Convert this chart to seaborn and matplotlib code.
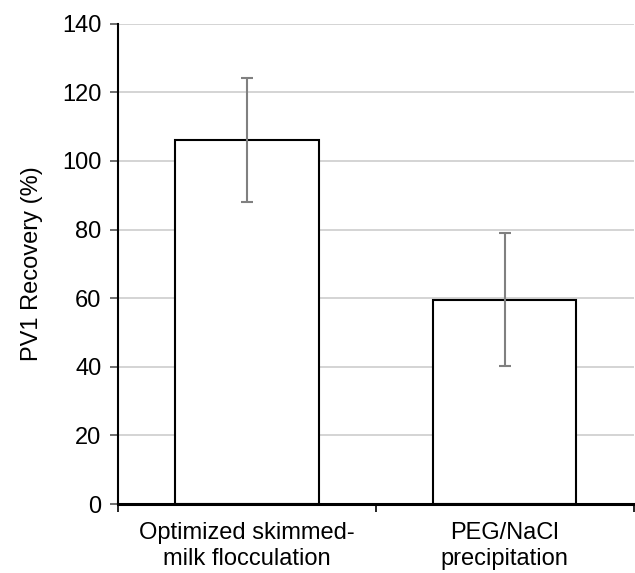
import matplotlib
matplotlib.use("Agg")
import matplotlib.pyplot as plt
import seaborn as sns
import pandas as pd
from matplotlib.ticker import FixedLocator, NullFormatter

categories = ["Optimized skimmed-\nmilk flocculation", "PEG/NaCl\nprecipitation"]
recovery = [106.1, 59.6]
errors = [18.1, 19.3]
yticks = [0, 20, 40, 60, 80, 100, 120, 140]

sns.set_theme(style="white")
plt.rcParams['font.family'] = ['Liberation Sans', 'DejaVu Sans']
plt.rcParams['text.color'] = 'black'
plt.rcParams['axes.labelcolor'] = 'black'
plt.rcParams['xtick.color'] = 'black'
plt.rcParams['ytick.color'] = 'black'

df = pd.DataFrame({"method": categories, "recovery": recovery})

fig = plt.figure(figsize=(6.35, 5.73), dpi=100)
ax = fig.add_axes([0.186, 0.1204, 0.812, 0.8382])

sns.barplot(data=df, x="method", y="recovery", ax=ax, color="white",
            edgecolor="black", linewidth=1.5, width=0.555, errorbar=None, zorder=3)
ax.errorbar(range(len(categories)), recovery, yerr=errors, fmt="none",
            ecolor="#808080", elinewidth=1.5, capsize=4, capthick=1.5, zorder=4)

ax.set_ylim(0, 140)
ax.set_xlim(-0.5, 1.5)
ax.set_yticks(yticks)
ax.yaxis.grid(True, color="#d4d4d4", linewidth=1.4, zorder=0)
ax.set_axisbelow(True)

ax.xaxis.set_major_locator(FixedLocator([-0.5, 0.5, 1.5]))
ax.xaxis.set_major_formatter(NullFormatter())
ax.xaxis.set_minor_locator(FixedLocator([0, 1]))
ax.set_xticklabels(categories, minor=True, linespacing=1.25)
ax.tick_params(axis="x", which="major", direction="out", length=6, width=1.2, color="black", bottom=True)
ax.tick_params(axis="x", which="minor", length=0, labelsize=17, pad=13, labelcolor="black")
ax.tick_params(axis="y", direction="out", length=6, width=1.2, color="#555555", left=True,
               labelsize=17, pad=6, labelcolor="black")

ax.set_xlabel("")
ax.set_ylabel("PV1 Recovery (%)", fontsize=17, labelpad=14, color="black")

for s in ["top", "right"]:
    ax.spines[s].set_visible(False)
ax.spines["left"].set_color("black")
ax.spines["left"].set_linewidth(1.5)
ax.spines["bottom"].set_color("black")
ax.spines["bottom"].set_linewidth(2.2)
ax.spines["bottom"].set_zorder(5)

fig.savefig("out.png", dpi=100, facecolor="white")
